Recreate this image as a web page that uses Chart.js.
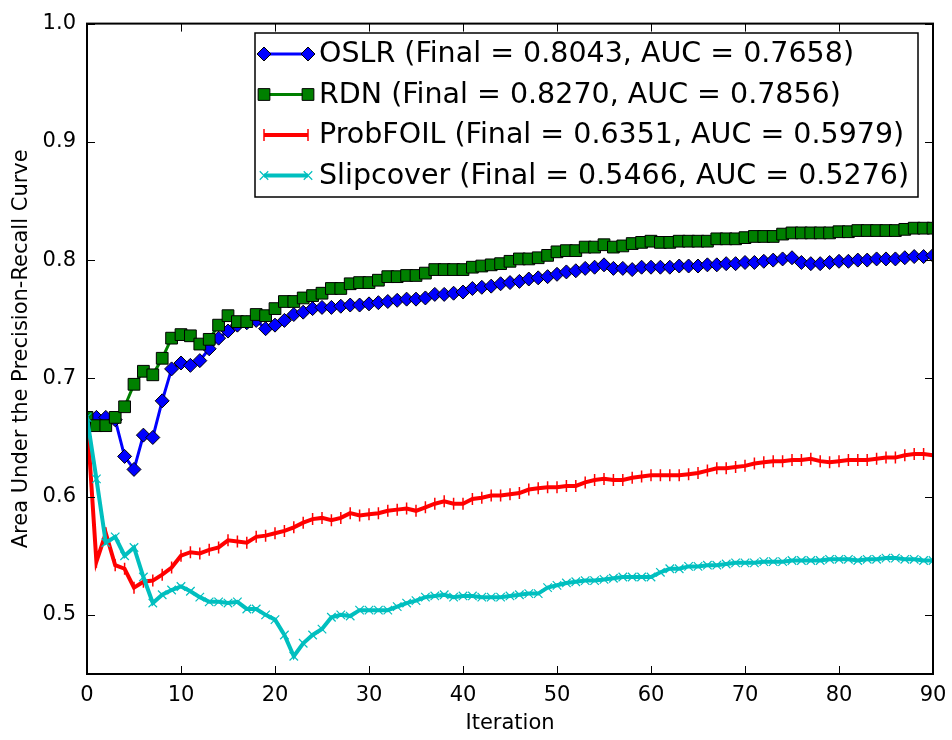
<!DOCTYPE html>
<html>
<head>
<meta charset="utf-8">
<script src="https://cdn.jsdelivr.net/npm/chart.js@4.4.1/dist/chart.umd.min.js"></script>
<style>
  html, body { margin: 0; padding: 0; background: #fff; }
</style>
</head>
<body>
<canvas id="aucChart" width="952" height="740"></canvas>
<script>
// iteration index 0..90 (x axis categories)
const iterations = Array.from({ length: 91 }, (_, i) => i);
const xTicks = [0, 10, 20, 30, 40, 50, 60, 70, 80, 90];
const yTicks = [0.5, 0.6, 0.7, 0.8, 0.9, 1.0];

const oslr = [
  0.667, 0.667, 0.667, 0.665, 0.634, 0.623, 0.652, 0.650, 0.681, 0.708,
  0.713, 0.711, 0.715, 0.725, 0.734, 0.740, 0.745, 0.747, 0.749, 0.742,
  0.745, 0.749, 0.754, 0.756, 0.759, 0.760, 0.760, 0.761, 0.762, 0.762,
  0.763, 0.764, 0.765, 0.766, 0.767, 0.767, 0.768, 0.771, 0.771, 0.772,
  0.773, 0.776, 0.777, 0.778, 0.780, 0.781, 0.782, 0.784, 0.785, 0.786,
  0.788, 0.790, 0.791, 0.793, 0.794, 0.796, 0.793, 0.793, 0.792, 0.794,
  0.794, 0.794, 0.794, 0.795, 0.795, 0.795, 0.796, 0.796, 0.797, 0.797,
  0.798, 0.798, 0.799, 0.800, 0.801, 0.802, 0.798, 0.797, 0.797, 0.798,
  0.799, 0.799, 0.800, 0.800, 0.801, 0.801, 0.801, 0.802, 0.803, 0.803,
  0.804
];
const rdn = [
  0.667, 0.660, 0.660, 0.667, 0.676, 0.695, 0.706, 0.703, 0.717, 0.734,
  0.737, 0.736, 0.729, 0.733, 0.745, 0.753, 0.748, 0.748, 0.754, 0.753,
  0.759, 0.765, 0.765, 0.768, 0.770, 0.772, 0.776, 0.776, 0.780, 0.781,
  0.781, 0.783, 0.786, 0.786, 0.787, 0.787, 0.789, 0.792, 0.792, 0.792,
  0.792, 0.794, 0.795, 0.796, 0.797, 0.799, 0.801, 0.801, 0.802, 0.804,
  0.807, 0.808, 0.808, 0.811, 0.811, 0.813, 0.811, 0.812, 0.814, 0.815,
  0.816, 0.815, 0.815, 0.816, 0.816, 0.816, 0.816, 0.818, 0.818, 0.818,
  0.819, 0.820, 0.820, 0.820, 0.822, 0.823, 0.823, 0.823, 0.823, 0.823,
  0.824, 0.824, 0.825, 0.825, 0.825, 0.825, 0.825, 0.826, 0.827, 0.827,
  0.827
];
const probfoil = [
  0.667, 0.545, 0.569, 0.542, 0.539, 0.523, 0.528, 0.529, 0.534, 0.540,
  0.550, 0.553, 0.552, 0.555, 0.557, 0.563, 0.562, 0.561, 0.566, 0.567,
  0.569, 0.571, 0.574, 0.578, 0.581, 0.582, 0.580, 0.582, 0.586, 0.584,
  0.585, 0.586, 0.588, 0.589, 0.590, 0.588, 0.591, 0.594, 0.596, 0.594,
  0.594, 0.598, 0.599, 0.601, 0.601, 0.602, 0.603, 0.606, 0.607, 0.608,
  0.608, 0.609, 0.609, 0.612, 0.614, 0.615, 0.614, 0.614, 0.616, 0.617,
  0.618, 0.618, 0.618, 0.618, 0.619, 0.620, 0.622, 0.624, 0.624, 0.625,
  0.626, 0.628, 0.629, 0.630, 0.630, 0.631, 0.631, 0.632, 0.630, 0.629,
  0.630, 0.631, 0.631, 0.631, 0.632, 0.633, 0.633, 0.635, 0.636, 0.636,
  0.635
];
const slipcover = [
  0.667, 0.615, 0.561, 0.566, 0.550, 0.557, 0.532, 0.510, 0.517, 0.521,
  0.524, 0.520, 0.515, 0.511, 0.511, 0.510, 0.511, 0.505, 0.505, 0.500,
  0.496, 0.483, 0.465, 0.476, 0.483, 0.488, 0.498, 0.500, 0.499, 0.504,
  0.504, 0.504, 0.504, 0.507, 0.510, 0.512, 0.515, 0.516, 0.517, 0.515,
  0.516, 0.516, 0.515, 0.515, 0.515, 0.516, 0.517, 0.518, 0.518, 0.523,
  0.525, 0.527, 0.528, 0.529, 0.529, 0.530, 0.531, 0.532, 0.532, 0.532,
  0.532, 0.536, 0.539, 0.539, 0.541, 0.541, 0.542, 0.542, 0.543, 0.544,
  0.544, 0.544, 0.545, 0.545, 0.545, 0.546, 0.546, 0.546, 0.546, 0.547,
  0.547, 0.547, 0.546, 0.547, 0.547, 0.548, 0.548, 0.547, 0.547, 0.546,
  0.546
];

const seriesNames = [
  'OSLR (Final = 0.8043, AUC = 0.7658)',
  'RDN (Final = 0.8270, AUC = 0.7856)',
  'ProbFOIL (Final = 0.6351, AUC = 0.5979)',
  'Slipcover (Final = 0.5466, AUC = 0.5276)'
];

const FONT = "'DejaVu Sans', sans-serif";

// matplotlib-ish marker styles per series
const styles = [
  { color: '#0000ff', pointStyle: 'rectRot', radius: 7, rotation: 0, fill: '#0000ff', edge: '#000', edgeW: 1, lineW: 3 },
  { color: '#008000', pointStyle: 'rect', radius: 8.3, rotation: 0, fill: '#008000', edge: '#000', edgeW: 1, lineW: 3 },
  { color: '#ff0000', pointStyle: 'line', radius: 6, rotation: 90, fill: '#ff0000', edge: '#ff0000', edgeW: 1.5, lineW: 4 },
  { color: '#00bfbf', pointStyle: 'crossRot', radius: 6, rotation: 0, fill: '#00bfbf', edge: '#00bfbf', edgeW: 1.2, lineW: 4 }
];
const seriesData = [oslr, rdn, probfoil, slipcover];

const datasets = seriesData.map((d, i) => {
  const s = styles[i];
  return {
    label: seriesNames[i],
    data: d,
    borderColor: s.color,
    borderWidth: s.lineW,
    backgroundColor: s.fill,
    pointStyle: s.pointStyle,
    pointRadius: s.radius,
    pointRotation: s.rotation,
    pointBackgroundColor: s.fill,
    pointBorderColor: s.edge,
    pointBorderWidth: s.edgeW,
    tension: 0,
    clip: 0,
    order: 4 - i
  };
});

/* frame + inward ticks on all four sides */
const frameTicks = {
  id: 'frameTicks',
  afterDatasetsDraw(chart) {
    const { ctx, chartArea: a, scales: { x, y } } = chart;
    ctx.save();
    ctx.strokeStyle = '#000';
    ctx.lineWidth = 1;
    ctx.beginPath();
    xTicks.forEach(v => {
      const px = Math.round(x.getPixelForValue(v)) + 0.5;
      ctx.moveTo(px, a.bottom); ctx.lineTo(px, a.bottom - 8);
      ctx.moveTo(px, a.top); ctx.lineTo(px, a.top + 8);
    });
    yTicks.forEach(v => {
      const py = Math.round(y.getPixelForValue(v)) + 0.5;
      ctx.moveTo(a.left, py); ctx.lineTo(a.left + 8, py);
      ctx.moveTo(a.right, py); ctx.lineTo(a.right - 8, py);
    });
    ctx.stroke();
    ctx.lineWidth = 2;
    ctx.strokeRect(a.left, a.top, a.right - a.left, a.bottom - a.top);
    ctx.restore();
  }
};

/* legend box, upper right */
const mplLegend = {
  id: 'mplLegend',
  afterDraw(chart) {
    const { ctx } = chart;
    const box = { x: 255, y: 33, w: 663, h: 164 };
    ctx.save();
    ctx.fillStyle = '#fff';
    ctx.fillRect(box.x, box.y, box.w, box.h);
    ctx.strokeStyle = '#000';
    ctx.lineWidth = 1.5;
    ctx.strokeRect(box.x, box.y, box.w, box.h);
    ctx.font = '28.5px ' + FONT;
    ctx.textBaseline = 'middle';
    seriesNames.forEach((name, i) => {
      const s = styles[i];
      const cy = box.y + 21 + i * 40.5;
      const x0 = box.x + 9, x1 = box.x + 53;
      ctx.strokeStyle = s.color;
      ctx.lineWidth = s.lineW;
      ctx.beginPath(); ctx.moveTo(x0, cy); ctx.lineTo(x1, cy); ctx.stroke();
      [x0, x1].forEach(px => {
        ctx.fillStyle = s.fill;
        ctx.strokeStyle = s.edge;
        ctx.lineWidth = s.edgeW;
        Chart.helpers.drawPoint(ctx, { pointStyle: s.pointStyle, radius: s.radius, rotation: s.rotation, borderWidth: s.edgeW }, px, cy);
      });
      ctx.fillStyle = '#000';
      ctx.fillText(name, box.x + 64, cy + 1);
    });
    ctx.restore();
  }
};

new Chart(document.getElementById('aucChart'), {
  type: 'line',
  data: { labels: iterations, datasets },
  options: {
    responsive: false,
    animation: false,
    devicePixelRatio: 1,
    layout: { padding: { top: 20, right: 19, left: 0, bottom: 0 } },
    plugins: { legend: { display: false }, tooltip: { enabled: false } },
    scales: {
      x: {
        type: 'linear',
        min: 0, max: 90,
        grid: { display: false, drawTicks: false },
        border: { display: false },
        afterBuildTicks: s => { s.ticks = xTicks.map(v => ({ value: v })); },
        afterFit: s => { s.height = 66; s.paddingLeft = 0; s.paddingRight = 0; },
        ticks: { color: '#000', font: { family: FONT, size: 21 }, padding: 9, maxRotation: 0, autoSkip: false },
        title: { display: true, text: 'Iteration', color: '#000', font: { family: FONT, size: 21 }, padding: { top: 0, bottom: 4 } }
      },
      y: {
        min: 0.45, max: 1.0,
        grid: { display: false, drawTicks: false },
        border: { display: false },
        afterBuildTicks: s => { s.ticks = yTicks.map(v => ({ value: v })); },
        afterFit: s => { s.width = 87; },
        ticks: { color: '#000', font: { family: FONT, size: 21 }, padding: 11, callback: v => v.toFixed(1) },
        title: { display: true, text: 'Area Under the Precision-Recall Curve', color: '#000', font: { family: FONT, size: 21 }, padding: { top: 9, bottom: 0 } }
      }
    }
  },
  plugins: [frameTicks, mplLegend]
});
</script>
</body>
</html>
